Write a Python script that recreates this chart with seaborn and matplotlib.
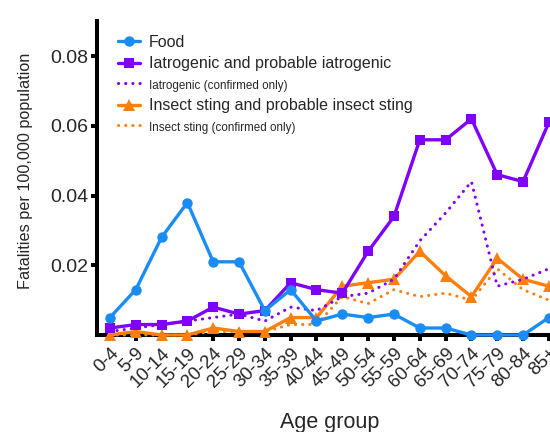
import matplotlib
matplotlib.use("Agg")
import matplotlib.pyplot as plt
import seaborn as sns
import numpy as np

age_groups = ["0-4", "5-9", "10-14", "15-19", "20-24", "25-29", "30-34", "35-39",
              "40-44", "45-49", "50-54", "55-59", "60-64", "65-69", "70-74",
              "75-79", "80-84", "85+"]

food = [0.005, 0.013, 0.028, 0.038, 0.021, 0.021, 0.007, 0.013, 0.004,
        0.006, 0.005, 0.006, 0.002, 0.002, 0.000, 0.000, 0.000, 0.005]
iatro_prob = [0.002, 0.003, 0.003, 0.004, 0.008, 0.006, 0.007, 0.015, 0.013,
              0.012, 0.024, 0.034, 0.056, 0.056, 0.062, 0.046, 0.044, 0.061]
iatro_conf = [0.001, 0.002, 0.003, 0.004, 0.005, 0.006, 0.004, 0.008, 0.007,
              0.011, 0.012, 0.016, 0.027, 0.035, 0.044, 0.014, 0.016, 0.019]
insect_prob = [0.000, 0.001, 0.000, 0.000, 0.002, 0.001, 0.001, 0.005, 0.005,
               0.014, 0.015, 0.016, 0.024, 0.017, 0.011, 0.022, 0.016, 0.014]
insect_conf = [0.000, 0.000, 0.000, 0.000, 0.001, 0.001, 0.001, 0.003, 0.003,
               0.011, 0.009, 0.013, 0.011, 0.012, 0.010, 0.019, 0.013, 0.010]

labels = ["Food", "Iatrogenic and probable iatrogenic", "Iatrogenic (confirmed only)",
          "Insect sting and probable insect sting", "Insect sting (confirmed only)"]

blue = "#1a8cf5"
purple = "#7f00ff"
orange = "#ff7f0e"

sns.set_style("ticks")
plt.rcParams["font.family"] = ["Liberation Sans", "DejaVu Sans"]

fig = plt.figure(figsize=(5.5, 4.32), dpi=100)
ax = fig.add_axes([97 / 550, 97 / 432, 464.8 / 550, 313.7 / 432])

x = np.arange(len(age_groups))
dot = (0, (0.05, 2.3))

sns.lineplot(x=x, y=insect_conf, ax=ax, color=orange, lw=2.2, linestyle=dot,
             dash_capstyle="round", clip_on=False, zorder=3, label=labels[4])
sns.lineplot(x=x, y=insect_prob, ax=ax, color=orange, lw=2.4, marker="^", markersize=8,
             markeredgewidth=0, clip_on=False, zorder=4, label=labels[3])
sns.lineplot(x=x, y=iatro_conf, ax=ax, color=purple, lw=2.2, linestyle=dot,
             dash_capstyle="round", clip_on=False, zorder=5, label=labels[2])
sns.lineplot(x=x, y=iatro_prob, ax=ax, color=purple, lw=2.4, marker="s", markersize=7,
             markeredgewidth=0, clip_on=False, zorder=6, label=labels[1])
sns.lineplot(x=x, y=food, ax=ax, color=blue, lw=2.4, marker="o", markersize=7.5,
             markeredgewidth=0, clip_on=False, zorder=7, label=labels[0])

ax.set_xlim(-0.5, 17.5)
ax.set_ylim(0, 0.09)
ax.set_yticks([0.02, 0.04, 0.06, 0.08])
ax.set_yticklabels(["0.02", "0.04", "0.06", "0.08"])
ax.set_xticks(x)
ax.set_xticklabels(age_groups, rotation=45, ha="right", rotation_mode="anchor")

for s in ["top", "right"]:
    ax.spines[s].set_visible(False)
for s in ["left", "bottom"]:
    ax.spines[s].set_linewidth(2.9)
    ax.spines[s].set_color("black")
    ax.spines[s].set_zorder(2)
ax.tick_params(axis="both", width=2.9, length=4, color="black", pad=2)
ax.tick_params(axis="y", labelsize=14)
ax.tick_params(axis="x", labelsize=13.5, pad=3)

ax.set_ylabel("Fatalities per 100,000 population", fontsize=11.7)
ax.yaxis.set_label_coords((33 - 97) / 464.8, (335 - 171) / 313.7)
ax.set_xlabel("Age group", fontsize=15.5, labelpad=15)

handles, labs = ax.get_legend_handles_labels()
order = [labs.index(l) for l in labels]
leg = ax.legend([handles[i] for i in order], [labs[i] for i in order],
                loc="upper left", bbox_to_anchor=(118 / 550, 1 - 35 / 432),
                bbox_transform=fig.transFigure, frameon=False, fontsize=11.5,
                borderpad=0, borderaxespad=0, handlelength=1.35, handletextpad=0.6,
                labelspacing=0.4)
for i, t in enumerate(leg.get_texts()):
    if i in (2, 4):
        t.set_fontsize(8.4)

fig.savefig("out.png", dpi=100)
